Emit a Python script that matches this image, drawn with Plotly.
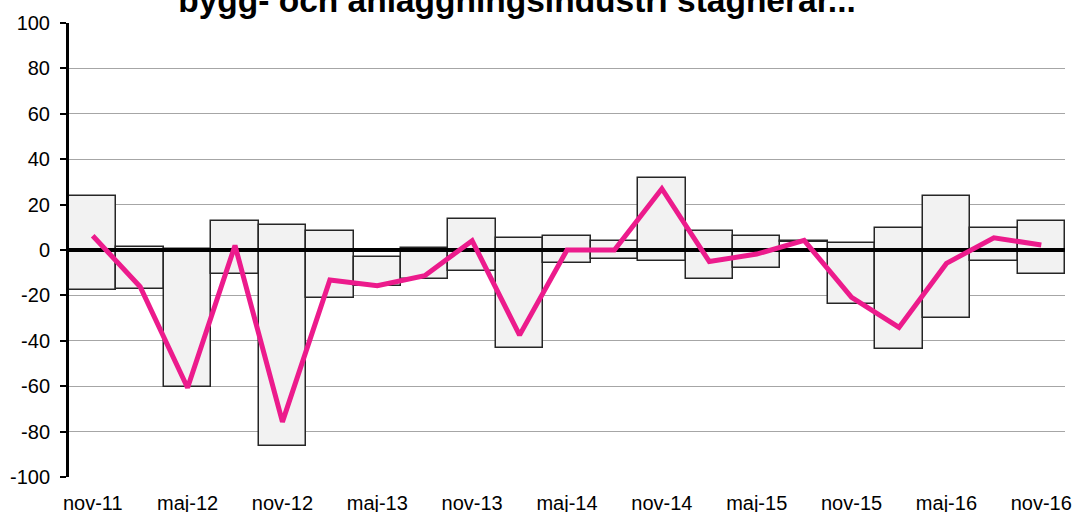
import plotly.graph_objects as go

quarters = ["nov-11", "feb-12", "maj-12", "aug-12", "nov-12", "feb-13", "maj-13", "aug-13",
            "nov-13", "feb-14", "maj-14", "aug-14", "nov-14", "feb-15", "maj-15", "aug-15",
            "nov-15", "feb-16", "maj-16", "aug-16", "nov-16"]
high = [24.0, 1.2, 0.5, 12.9, 10.9, 8.2, -2.9, 1.0, 13.8, 5.3, 6.0, 4.1, 31.7, 8.2, 6.0, 4.1,
        2.9, 9.9, 23.8, 9.9, 12.8]
low = [-17.6, -17.1, -60.3, -10.6, -86.3, -21.3, -15.9, -12.6, -9.3, -43.1, -5.9, -4.0, -4.9,
       -12.9, -7.9, 3.4, -23.8, -43.8, -29.9, -4.9, -10.7]
balance = [6.3, -16.2, -60.7, 2.0, -75.7, -13.2, -15.7, -11.3, 4.1, -37.5, 0.0, 0.0, 27.0,
           -5.1, -1.8, 4.2, -20.9, -34.1, -5.9, 5.4, 2.2]
y_ticks = [-100, -80, -60, -40, -20, 0, 20, 40, 60, 80, 100]
title_text = "bygg- och anläggningsindustri stagnerar..."

idx = list(range(len(quarters)))
FONT = "Liberation Sans, Arial, sans-serif"
W, H = 1076, 512

fig = go.Figure()
fig.add_trace(go.Bar(
    x=idx, y=[h - l for h, l in zip(high, low)], base=low, width=1.0,
    marker=dict(color="#F2F2F2", line=dict(color="#262626", width=1.5)),
    showlegend=False, hoverinfo="skip"))
# zero reference line (between bars and the balance line)
fig.add_trace(go.Scatter(
    x=[idx[0] - 0.5, idx[-1] + 0.5], y=[0, 0], mode="lines",
    line=dict(color="#000000", width=4), showlegend=False, hoverinfo="skip"))
fig.add_trace(go.Scatter(
    x=idx, y=balance, mode="lines",
    line=dict(color="#EC1B8C", width=5), showlegend=False))

fig.update_layout(
    width=W, height=H,
    margin=dict(l=69, r=11, t=23, b=35, autoexpand=False),
    paper_bgcolor="white", plot_bgcolor="white",
    bargap=0,
    font=dict(family=FONT, size=20, color="#000000"),
    title=dict(text="<b>" + title_text + "</b>", font=dict(family=FONT, size=33.5, color="#000000"),
               xref="container", yref="container", x=517 / W, xanchor="center",
               y=1 - 12 / H, yanchor="bottom"),
    xaxis=dict(range=[-0.5, len(quarters) - 0.5], tickmode="array",
               tickvals=idx[::2], ticktext=quarters[::2], showgrid=False,
               zeroline=False, showline=False, ticks="", ticklabelstandoff=12,
               tickfont=dict(family=FONT, size=20, color="#000000")),
    yaxis=dict(range=[-100, 100], tickmode="array", tickvals=y_ticks,
               ticktext=[str(v) for v in y_ticks],
               showgrid=True, gridcolor="#A6A6A6", gridwidth=1, zeroline=False,
               showline=True, linecolor="#000000", linewidth=3,
               ticks="outside", ticklen=6, tickwidth=2, tickcolor="#000000",
               ticklabelstandoff=6,
               tickfont=dict(family=FONT, size=20, color="#000000")),
)

fig.write_html("out.html", config={"displayModeBar": False},
               post_script="document.body.style.margin='0';document.body.style.overflow='hidden';")
